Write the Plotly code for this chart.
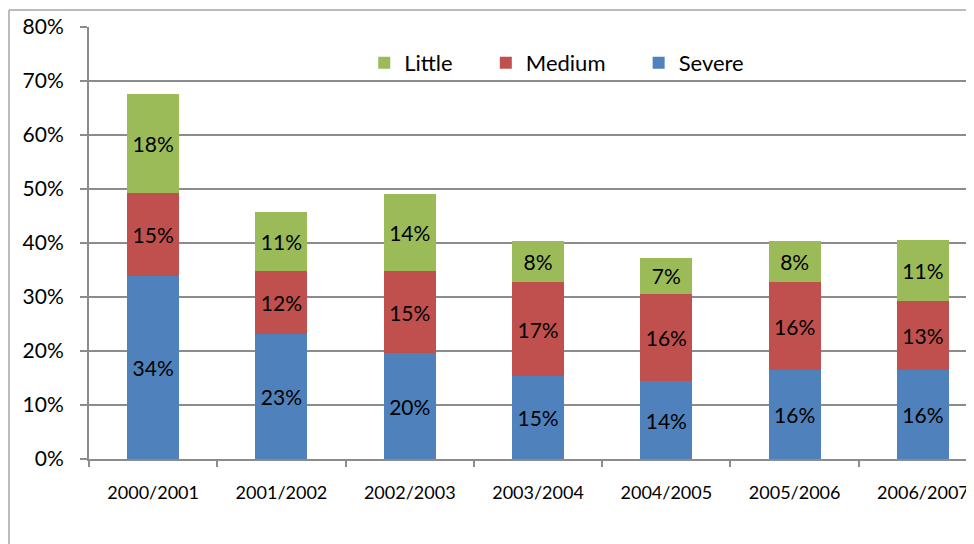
import plotly.graph_objects as go

seasons = ["2000/2001", "2001/2002", "2002/2003", "2003/2004",
           "2004/2005", "2005/2006", "2006/2007"]
severe = [0.339, 0.232, 0.196, 0.154, 0.144, 0.164, 0.164]
medium = [0.153, 0.117, 0.152, 0.173, 0.162, 0.163, 0.129]
little = [0.184, 0.109, 0.143, 0.077, 0.066, 0.077, 0.112]

FONT = "Lato, Carlito, Calibri, sans-serif"
GRID = "#8c8c8c"
PAD = "\u00a0" * 5  # extra room between legend entries

fig = go.Figure()
for name, vals, color in [("Severe", severe, "#4F81BD"),
                          ("Medium" + PAD, medium, "#C0504D"),
                          ("Little" + PAD, little, "#9BBB59")]:
    fig.add_trace(go.Bar(
        x=seasons, y=vals, name=name,
        marker=dict(color=color, line=dict(width=0)),
        texttemplate="%{y:.0%}", textposition="inside",
        insidetextanchor="middle", constraintext="none",
        textfont=dict(family=FONT, size=21, color="#000000"),
        width=0.405,
    ))

# the page body keeps its 8px margin, so the figure is 8px smaller
fig.update_layout(
    barmode="stack",
    width=966, height=536,
    margin=dict(l=81, r=0, t=19, b=85, autoexpand=False),
    plot_bgcolor="white", paper_bgcolor="white",
    font=dict(family=FONT, color="#000000"),
    showlegend=True,
    legend=dict(orientation="h", traceorder="reversed",
                x=0.311, y=0.917, xanchor="left", yanchor="middle",
                font=dict(family=FONT, size=22),
                bgcolor="rgba(0,0,0,0)"),
    xaxis=dict(range=[-0.5, 6.398], showline=True, linecolor=GRID, linewidth=2,
               ticks="outside", tickson="boundaries", ticklen=6, tickcolor=GRID,
               tickwidth=1.5, ticklabelstandoff=16, automargin=False,
               tickfont=dict(family=FONT, size=18), showgrid=False),
    yaxis=dict(range=[0, 0.8], dtick=0.1, tickformat=".0%",
               showline=True, linecolor=GRID, linewidth=2, automargin=False,
               ticks="outside", ticklen=7, tickcolor=GRID, tickwidth=1.5,
               ticklabelstandoff=12,
               showgrid=True, gridcolor=GRID, gridwidth=2,
               tickfont=dict(family=FONT, size=21), zeroline=False),
)

# outer chart frame (cropped on the right and bottom)
fig.add_shape(type="line", xref="paper", yref="paper",
              x0=-0.0904, x1=1.1, y0=1.0394, y1=1.0394,
              line=dict(color="#a6a6a6", width=1.5))
fig.add_shape(type="line", xref="paper", yref="paper",
              x0=-0.0904, x1=-0.0904, y0=-0.3, y1=1.0394,
              line=dict(color="#a6a6a6", width=1.5))

fig.write_html("out.html")
